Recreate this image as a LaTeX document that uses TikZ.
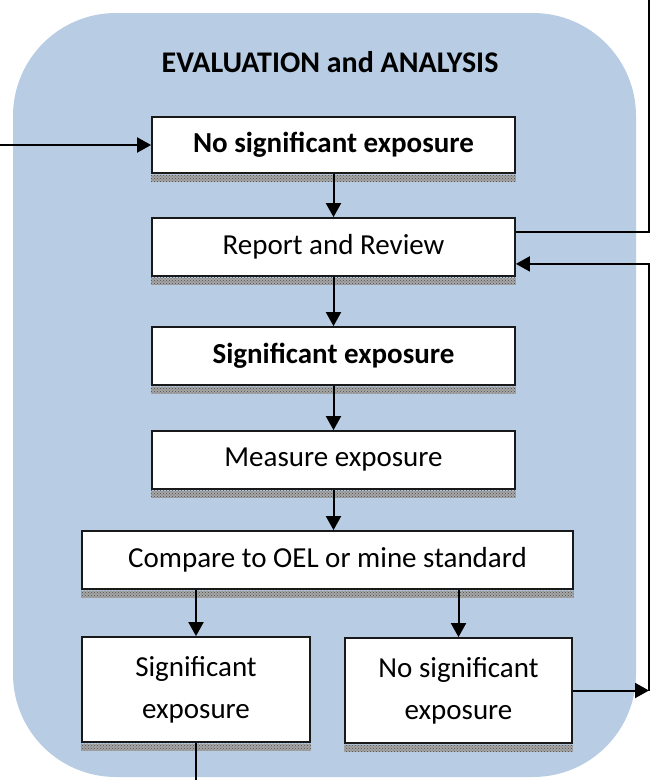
\documentclass[tikz,border=0pt]{standalone}
\usepackage{fontspec}
\setmainfont{Carlito}
\usetikzlibrary{arrows.meta,patterns}
\definecolor{panel}{RGB}{184,204,228}
\newcommand\boxshadow[1]{%
  \fill[gray!70] ([yshift=-1pt]#1.south west) rectangle ([yshift=-8pt]#1.south east);
  \fill[pattern=crosshatch dots,pattern color=black!70] ([yshift=-1pt]#1.south west) rectangle ([yshift=-8pt]#1.south east);}
\begin{document}
\begin{tikzpicture}[x=1pt,y=-1pt,
  box/.style={draw=black!90,line width=1.8pt,fill=white,inner sep=0pt,align=center,
    font=\fontsize{29}{42}\selectfont},
  boldbox/.style={box,font=\bfseries\fontsize{29}{42}\selectfont},
  conn/.style={line width=2pt},
  arr/.style={conn,-{Triangle[length=14pt,width=15pt]}},
]
\useasboundingbox (0,0) rectangle (651,780);
\fill[panel,rounded corners=103pt] (13,13) rectangle (636,777);
\node[font=\bfseries\fontsize{30}{36}\selectfont] (title) at (330,62) {EVALUATION and ANALYSIS};

\node[boldbox,minimum width=363pt,minimum height=56pt] (b1) at (333.5,145) {No significant exposure};
\boxshadow{b1}
\node[box,minimum width=363pt,minimum height=58pt] (b2) at (333.5,247) {Report and Review};
\boxshadow{b2}
\node[boldbox,minimum width=363pt,minimum height=58pt] (b3) at (333.5,356) {Significant exposure};
\boxshadow{b3}
\node[box,minimum width=363pt,minimum height=58pt] (b4) at (333.5,460) {Measure exposure};
\boxshadow{b4}
\node[box,minimum width=491pt,minimum height=58pt] (b5) at (327.5,560) {Compare to OEL or mine standard};
\boxshadow{b5}
\node[box,minimum width=228pt,minimum height=105pt] (b6) at (196,689.5) {Significant\\exposure};
\boxshadow{b6}
\node[box,minimum width=227pt,minimum height=105pt] (b7) at (458.5,690.5) {No significant\\exposure};
\boxshadow{b7}

\coordinate (inL) at (0,145);
\coordinate (topR) at (649,0);
\coordinate (loopB) at (649,690.5);
\coordinate (botS) at (196,780);

\draw[arr] (inL) -- (b1.west);
\draw[arr] (b1.south) -- (b2.north);
\draw[arr] (b2.south) -- (b3.north);
\draw[arr] (b3.south) -- (b4.north);
\draw[arr] (b4.south) -- (b4.south |- b5.north);
\draw[arr] (b5.south -| b6.north) -- (b6.north);
\draw[arr] (b5.south -| b7.north) -- (b7.north);
\draw[conn] ([yshift=-15pt]b2.north east) -| (topR);
\draw[arr] (loopB) |- ([yshift=13pt]b2.south east);
\draw[arr] (b7.east) -- (loopB);
\draw[conn] (b6.south) -- (botS);
\end{tikzpicture}
\end{document}
